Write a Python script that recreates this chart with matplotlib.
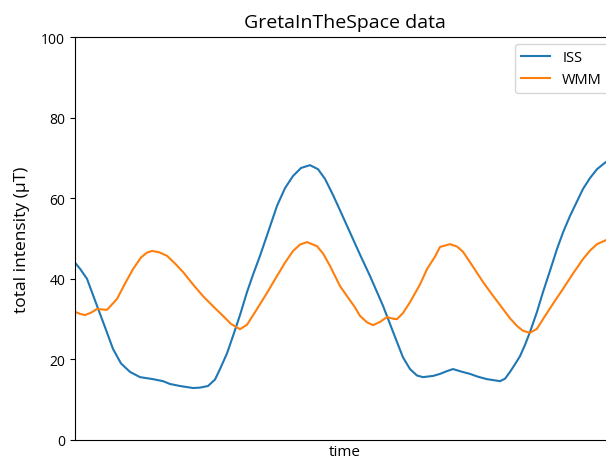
import matplotlib
matplotlib.use("Agg")
import matplotlib.pyplot as plt

plt.rcParams['font.family'] = ['Open Sans', 'DejaVu Sans']

# time axis (arbitrary units) and readings for each series
iss_t = [0, 5, 12, 22, 30, 38, 46, 55, 65, 78, 88, 95, 105, 118, 125, 133, 140, 145, 152,
         158, 165, 172, 178, 185, 193, 202, 210, 218, 226, 235, 243, 250, 258, 265, 275,
         285, 295, 308, 315, 322, 328, 335, 342, 348, 358, 365, 372, 378, 386, 395, 403,
         412, 425, 430, 435, 440, 445, 450, 455, 462, 468, 475, 482, 488, 495, 502, 508,
         515, 522, 531, 540]
iss = [44.0, 42.5, 40.0, 33.3, 28.0, 22.6, 19.0, 16.9, 15.6, 15.1, 14.6, 13.9, 13.4, 12.9,
       13.0, 13.4, 15.0, 17.6, 21.5, 25.8, 31.0, 36.7, 41.0, 45.7, 51.5, 58.1, 62.5, 65.5,
       67.5, 68.2, 67.2, 64.8, 60.8, 57.0, 51.5, 46.0, 40.7, 33.3, 28.8, 24.3, 20.5, 17.6,
       16.0, 15.6, 15.9, 16.4, 17.1, 17.6, 17.0, 16.4, 15.7, 15.1, 14.6, 15.2, 16.9, 18.8,
       20.8, 23.6, 26.8, 31.8, 36.7, 42.0, 47.4, 51.5, 55.6, 59.2, 62.3, 65.0, 67.2, 69.0,
       69.5]

wmm_t = [0, 5, 10, 16, 22, 32, 42, 50, 58, 66, 72, 77, 84, 92, 100, 108, 118, 128, 138,
         148, 156, 165, 172, 182, 192, 202, 210, 218, 225, 232, 242, 248, 255, 265, 272,
         280, 285, 292, 298, 305, 312, 318, 322, 328, 335, 345, 352, 360, 365, 375, 382,
         388, 398, 408, 418, 428, 435, 442, 448, 455, 462, 468, 478, 488, 498, 508, 515,
         522, 531, 540]
wmm = [31.8, 31.3, 31.0, 31.6, 32.5, 32.3, 35.0, 38.8, 42.4, 45.3, 46.5, 46.9, 46.6, 45.7,
       43.8, 41.7, 38.6, 35.7, 33.2, 30.8, 28.8, 27.5, 28.6, 32.5, 36.5, 40.7, 44.0, 46.9,
       48.5, 49.1, 48.1, 46.3, 43.2, 38.2, 35.7, 32.9, 30.8, 29.2, 28.5, 29.3, 30.5, 30.1,
       30.0, 31.5, 34.2, 38.6, 42.4, 45.5, 47.9, 48.6, 48.0, 46.7, 43.0, 39.2, 35.8, 32.5,
       30.2, 28.3, 27.1, 26.6, 27.6, 30.0, 33.8, 37.5, 41.3, 44.9, 47.0, 48.6, 49.6, 50.0]

fig = plt.figure(figsize=(6.06, 4.6), dpi=100)
ax = fig.add_axes([75 / 606, 19 / 460, 540 / 606, 403 / 460])
ax.plot(iss_t, iss, label="ISS")
ax.plot(wmm_t, wmm, label="WMM")
ax.set_xlim(0, 540)
ax.set_ylim(0, 100)
ax.set_xticks([])
ax.tick_params(axis="y", labelsize=10)
ax.set_xlabel("time", fontsize=11, labelpad=3)
ax.set_ylabel("total intensity (μT)", fontsize=12.5, labelpad=8)
ax.set_title("GretaInTheSpace data", fontsize=14, pad=7)
ax.legend(loc="upper right", fontsize=10.5)

fig.savefig("out.png", dpi=100)
